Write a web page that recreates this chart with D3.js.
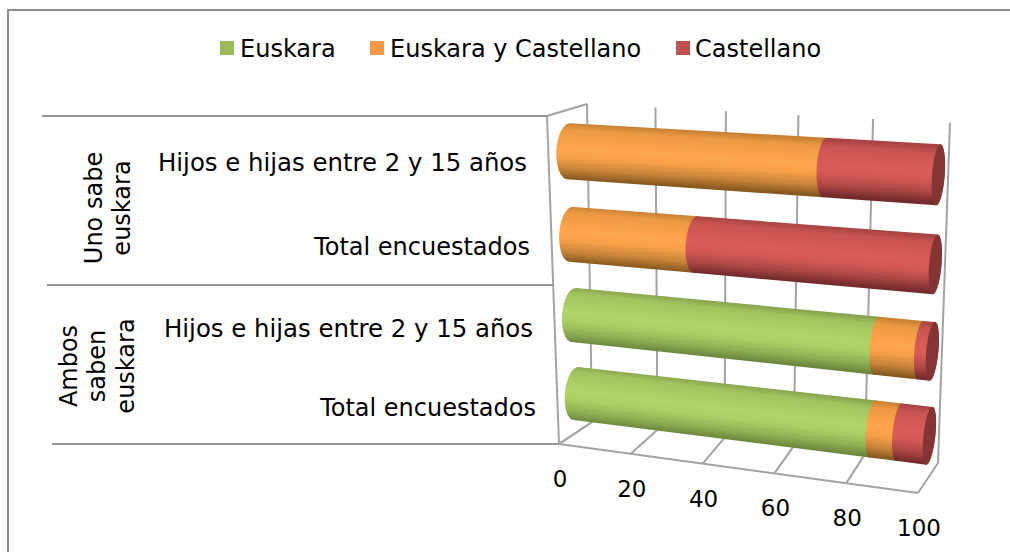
<!DOCTYPE html>
<html><head><meta charset="utf-8">
<script src="https://cdn.jsdelivr.net/npm/d3@7"></script>
<style>html,body{margin:0;padding:0;background:#fff}svg{display:block}text{font-family:"DejaVu Sans",Verdana,sans-serif;fill:#000}</style>
</head><body><svg id="c" width="1010" height="552"></svg>
<script>
// ---- data ----
const seriesNames = ["Euskara", "Euskara y Castellano", "Castellano"];
const categories = ["Hijos e hijas entre 2 y 15 años", "Total encuestados", "Hijos e hijas entre 2 y 15 años", "Total encuestados"];
const groupLabels = [["Uno sabe", "euskara"], ["Ambos", "saben", "euskara"]];
const euskara = [0, 0, 85.5, 85];
const euskaraCastellano = [71, 36, 11.5, 7];
const castellano = [29, 64, 3, 8];
const tickValues = [0, 20, 40, 60, 80, 100];
const seriesColors = ["#9bbb59", "#f79646", "#c0504d"];
const shades = [
  ["#86a24c","#b0d568","#6a853c"],
  ["#c88233","#ffa64d","#85591f"],
  ["#a84543","#da5c58","#722c2b"]];
const capColor = "#843433";

// ---- projection helpers ----
function homography(q){ // unit square -> quad [p00,p10,p11,p01]
  const [[x0,y0],[x1,y1],[x2,y2],[x3,y3]] = q;
  const dx1=x1-x2, dx2=x3-x2, sx=x0-x1+x2-x3, dy1=y1-y2, dy2=y3-y2, sy=y0-y1+y2-y3;
  const den=dx1*dy2-dx2*dy1;
  const g=(sx*dy2-dx2*sy)/den, h=(dx1*sy-sx*dy1)/den;
  const a=x1-x0+g*x1, b=x3-x0+h*x3, c=x0, d=y1-y0+g*y1, e=y3-y0+h*y3, f=y0;
  return (s,t)=>{const w=g*s+h*t+1; return [(a*s+b*t+c)/w,(d*s+e*t+f)/w];};
}
const backWall = homography([[587,104],[950,123],[938,463],[592,422]]);
const midPlane = homography([[568,109],[940,129],[928,477],[577,432]]);
const floorFront = (s)=>homography([[559,444],[918,493],[918,494],[559,445]])(s,0);
const xScale = d3.scaleLinear().domain([0,100]).range([0,1]);
const rowKeys = categories.map((c,i)=>i);
const yScale = d3.scaleBand().domain(rowKeys).range([0,1]);
const radius = 0.33;
// depth vector (back minus front) at plane position
function depth(s,t){
  const top=[40+(20-40)*s,-12+(-14+12)*s], bot=[33+(20-33)*s,-22+(-30+22)*s];
  return [top[0]+(bot[0]-top[0])*t, top[1]+(bot[1]-top[1])*t];
}
function ring(v,row){
  const s=xScale(v), bw=yScale.bandwidth(), tc=yScale(row)+bw/2;
  return d3.range(0,48).map(i=>{
    const a=i/48*2*Math.PI, t=tc+Math.cos(a)*radius*bw, z=Math.sin(a)*radius;
    const p=midPlane(s,t), D=depth(s,t);
    return [p[0]+z*D[0],p[1]+z*D[1]];
  });
}
const svg=d3.select("#c");
const line=d3.line();
const gridCol="#a3a3a3";

// frame
svg.append("path").attr("d",line([[8,552],[8,10],[1010,10]])).attr("fill","none").attr("stroke","#8c8c8c").attr("stroke-width",2);

// walls and gridlines
const g=svg.append("g").attr("fill","none").attr("stroke",gridCol).attr("stroke-width",2);
g.selectAll("path.grid").data(tickValues).join("path").attr("class","grid")
 .attr("d",v=>{const s=xScale(v);return line([backWall(s,0),backWall(s,1),floorFront(s)]);});
g.append("path").attr("d",line([[547,116],[587,104]]));
g.append("path").attr("d",line([[547,116],[559,444],[592,422]]));
g.append("path").attr("d",line([floorFront(0),floorFront(1)]));

// category separators
const sep=svg.append("g").attr("stroke","#969696").attr("stroke-width",2);
[[42,116,547],[47,285,553],[52,444,559]].forEach(d=>sep.append("line").attr("x1",d[0]).attr("x2",d[2]).attr("y1",d[1]).attr("y2",d[1]));

// gradients and bars
const defs=svg.append("defs");
const stacked=d3.stack().keys([0,1,2]).value((row,k)=>[euskara,euskaraCastellano,castellano][k][row])(rowKeys);
const barG=svg.append("g");
rowKeys.forEach(row=>{
  const r0=ring(0,row), r1=ring(100,row);
  const c0=d3.polygonCentroid(r0), c1=d3.polygonCentroid(r1);
  const L=Math.hypot(c1[0]-c0[0],c1[1]-c0[1]), n=[-(c1[1]-c0[1])/L,(c1[0]-c0[0])/L];
  const mid=[(c0[0]+c1[0])/2,(c0[1]+c1[1])/2], H=28;
  seriesNames.forEach((nm,k)=>{
    const id=`g${row}_${k}`;
    const gr=defs.append("linearGradient").attr("id",id).attr("gradientUnits","userSpaceOnUse")
      .attr("x1",mid[0]-n[0]*H).attr("y1",mid[1]-n[1]*H).attr("x2",mid[0]+n[0]*H).attr("y2",mid[1]+n[1]*H);
    const upper=d3.interpolateRgb(shades[k][0],shades[k][1]), lower=d3.interpolateRgb(shades[k][1],shades[k][2]);
    [[0,shades[k][0]],[0.12,upper(0.65)],[0.45,shades[k][1]],[0.62,lower(0.08)],[0.82,lower(0.45)],[1,shades[k][2]]]
      .forEach(st=>gr.append("stop").attr("offset",st[0]).attr("stop-color",st[1]));
    const [a,b]=stacked[k][row];
    if(b-a<=0) return;
    const hull=d3.polygonHull(ring(a,row).concat(ring(b,row)));
    barG.append("path").attr("d",line(hull)+"Z").attr("fill",`url(#${id})`);
  });
  barG.append("path").attr("d",line(r1)+"Z").attr("fill",capColor);
});

// axis tick labels
svg.append("g").selectAll("text").data(tickValues).join("text")
 .attr("x",v=>floorFront(xScale(v))[0]+1).attr("y",v=>floorFront(xScale(v))[1]+43)
 .attr("text-anchor","middle").attr("font-size",23).text(d=>d);

// category labels
const labelRight=[527,530,533,536], labelBase=[171,255,337,416];
svg.append("g").selectAll("text").data(categories).join("text")
 .attr("x",(d,i)=>labelRight[i]).attr("y",(d,i)=>labelBase[i]).attr("text-anchor","end").attr("font-size",(d,i)=>i%2?24:24.4).text(d=>d);

// group labels
const groupX=[[102,130],[77,105,134]], groupY=[208,366];
groupLabels.forEach((ls,gi)=>ls.forEach((t,i)=>{
  svg.append("text").attr("transform",`translate(${groupX[gi][i]},${groupY[gi]}) rotate(-90)`)
   .attr("text-anchor","middle").attr("font-size",24).text(t);
}));

// legend
const legendX=[220,370,676], legendTextX=[240,390,695];
svg.append("g").selectAll("rect").data(seriesNames).join("rect")
 .attr("x",(d,i)=>legendX[i]).attr("y",41).attr("width",14).attr("height",14).attr("fill",(d,i)=>seriesColors[i]);
svg.append("g").selectAll("text").data(seriesNames).join("text")
 .attr("x",(d,i)=>legendTextX[i]).attr("y",57).attr("font-size",24).text(d=>d);
</script></body></html>
